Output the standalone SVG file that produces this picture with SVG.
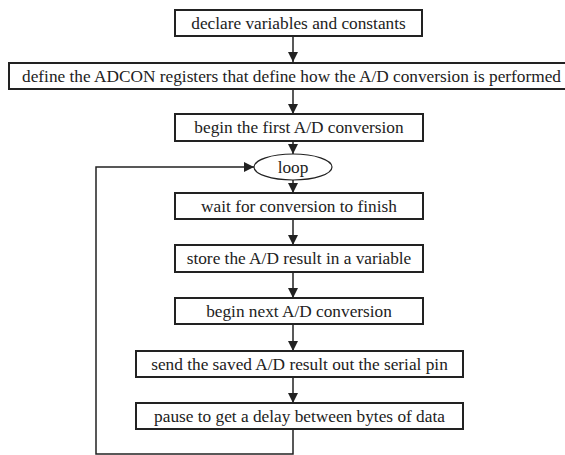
<svg xmlns="http://www.w3.org/2000/svg" width="565" height="455" viewBox="0 0 565 455">
<defs>
<style>
.box{fill:#fff;stroke:#222;stroke-width:2}
.t{font-family:"Liberation Serif","Times New Roman",serif;font-size:17.3px;fill:#222;text-anchor:middle}
.c{fill:none;stroke:#222;stroke-width:1.5}
</style>
<marker id="ah" markerWidth="10" markerHeight="10" refX="10" refY="5" orient="auto" markerUnits="userSpaceOnUse">
<path d="M0,0 L10,5 L0,10 Z" fill="#222"/>
</marker>
</defs>
<rect width="565" height="455" fill="#fff"/>
<g id="connectors">
<line class="c" x1="293" y1="36" x2="293" y2="62" marker-end="url(#ah)"/>
<line class="c" x1="293" y1="89" x2="293" y2="114" marker-end="url(#ah)"/>
<line class="c" x1="293" y1="141" x2="293" y2="154" marker-end="url(#ah)"/>
<line class="c" x1="293" y1="180" x2="293" y2="193" marker-end="url(#ah)"/>
<line class="c" x1="293" y1="219" x2="293" y2="245" marker-end="url(#ah)"/>
<line class="c" x1="293" y1="272" x2="293" y2="298" marker-end="url(#ah)"/>
<line class="c" x1="293" y1="324" x2="293" y2="351" marker-end="url(#ah)"/>
<line class="c" x1="293" y1="377" x2="293" y2="403" marker-end="url(#ah)"/>
<polyline class="c" points="293,429 293,454 96,454 96,167 254,167" marker-end="url(#ah)"/>
</g>
<g id="n1"><rect class="box" x="175" y="10" width="247" height="26"/><text class="t" x="298.5" y="29">declare variables and constants</text></g>
<g id="n2"><rect class="box" x="9" y="63" width="566" height="26"/><text class="t" x="291.5" y="82">define the ADCON registers that define how the A/D conversion is performed</text></g>
<g id="n3"><rect class="box" x="175" y="114" width="248" height="27"/><text class="t" x="299" y="133">begin the first A/D conversion</text></g>
<g id="loop"><ellipse cx="293" cy="167" rx="39" ry="13" fill="#fff" stroke="#222" stroke-width="1.2"/><text class="t" x="293" y="173">loop</text></g>
<g id="n4"><rect class="box" x="175" y="193" width="248" height="26"/><text class="t" x="299" y="212">wait for conversion to finish</text></g>
<g id="n5"><rect class="box" x="175" y="245" width="248" height="27"/><text class="t" x="299" y="264">store the A/D result in a variable</text></g>
<g id="n6"><rect class="box" x="175" y="298" width="248" height="26"/><text class="t" x="299" y="317">begin next A/D conversion</text></g>
<g id="n7"><rect class="box" x="136" y="351" width="327" height="26"/><text class="t" x="299.5" y="370">send the saved A/D result out the serial pin</text></g>
<g id="n8"><rect class="box" x="136" y="403" width="327" height="26"/><text class="t" x="299.5" y="422">pause to get a delay between bytes of data</text></g>
</svg>
